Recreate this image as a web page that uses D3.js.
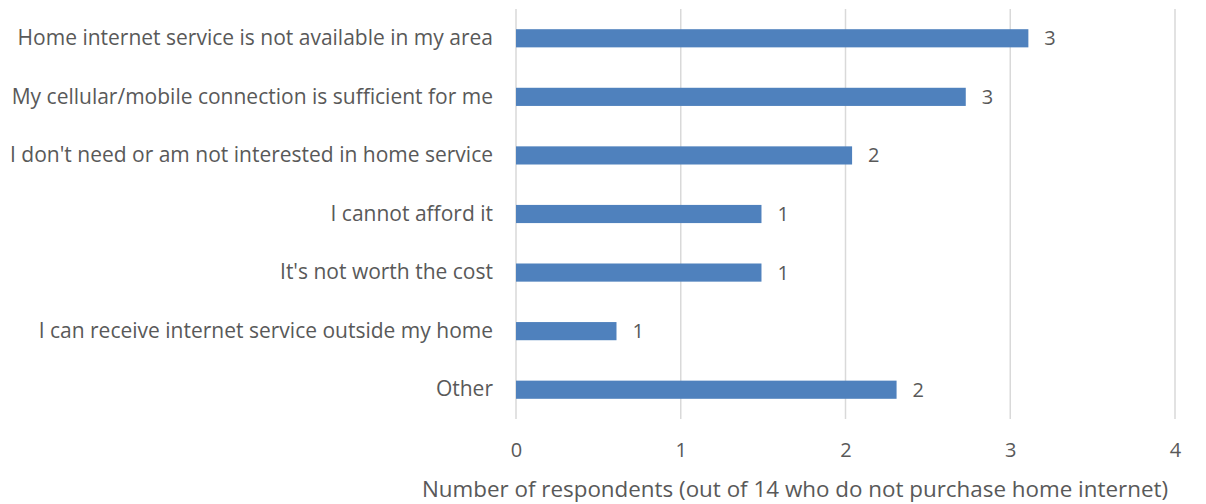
<!DOCTYPE html>
<html>
<head>
<meta charset="utf-8">
<script src="https://cdn.jsdelivr.net/npm/d3@7"></script>
<style>
  html, body { margin: 0; padding: 0; background: #fff; }
  svg { display: block; }
  text { font-family: "Open Sans", Lato, sans-serif; fill: #595959; }
</style>
</head>
<body>
<svg id="chart" width="1206" height="504"></svg>
<script>
// Reasons given for not purchasing home internet
const categories = [
  "Home internet service is not available in my area",
  "My cellular/mobile connection is sufficient for me",
  "I don't need or am not interested in home service",
  "I cannot afford it",
  "It's not worth the cost",
  "I can receive internet service outside my home",
  "Other"
];
const respondents = [3.11, 2.73, 2.04, 1.49, 1.49, 0.61, 2.31];
const xTicks = [0, 1, 2, 3, 4];
const xTitle = "Number of respondents (out of 14 who do not purchase home internet)";

const svg = d3.select("#chart");
const margin = { top: 9, right: 31, bottom: 85, left: 516 };
const W = 1206, H = 504;
const font = "'Open Sans', Lato, sans-serif";

const x = d3.scaleLinear().domain([0, 4]).range([margin.left, W - margin.right]);
const y = d3.scaleBand().domain(categories).range([margin.top, H - margin.bottom]).paddingInner(0.69).paddingOuter(0.345);

// vertical gridlines
svg.append("g").selectAll("line").data(xTicks).join("line")
  .attr("x1", d => x(d)).attr("x2", d => x(d))
  .attr("y1", margin.top).attr("y2", H - margin.bottom)
  .attr("stroke", "#d9d9d9").attr("stroke-width", 1.5);

// x axis tick labels
const xAxis = d3.axisBottom(x).tickValues(xTicks).tickFormat(d3.format("d")).tickSize(0).tickPadding(0);
const gx = svg.append("g").attr("transform", `translate(0, ${H - margin.bottom + 38})`).call(xAxis);
gx.select(".domain").remove();
gx.selectAll("text").attr("font-size", 20).attr("fill", "#595959").attr("dy", 0).attr("font-family", font);

// y axis category labels
const yAxis = d3.axisLeft(y).tickSize(0).tickPadding(23);
const gy = svg.append("g").attr("transform", `translate(${margin.left}, 0)`).call(yAxis);
gy.select(".domain").remove();
gy.selectAll("text").attr("font-size", 21).attr("fill", "#595959").attr("font-family", font);

// bars
const rows = categories.map((c, i) => ({ c, v: respondents[i] }));
svg.append("g").selectAll("rect").data(rows).join("rect")
  .attr("x", x(0))
  .attr("y", d => y(d.c))
  .attr("width", d => x(d.v) - x(0))
  .attr("height", y.bandwidth())
  .attr("fill", "#4f81bd");

// value labels
const fmt = d3.format(".0f");
svg.append("g").selectAll("text").data(rows).join("text")
  .attr("x", d => x(d.v) + 16)
  .attr("y", d => y(d.c) + y.bandwidth() / 2)
  .attr("dy", "0.35em")
  .attr("font-size", 20)
  .text(d => fmt(d.v));

// axis title
svg.append("text")
  .attr("x", 795).attr("y", 497)
  .attr("text-anchor", "middle")
  .attr("font-size", 22.4)
  .text(xTitle);
</script>
</body>
</html>
